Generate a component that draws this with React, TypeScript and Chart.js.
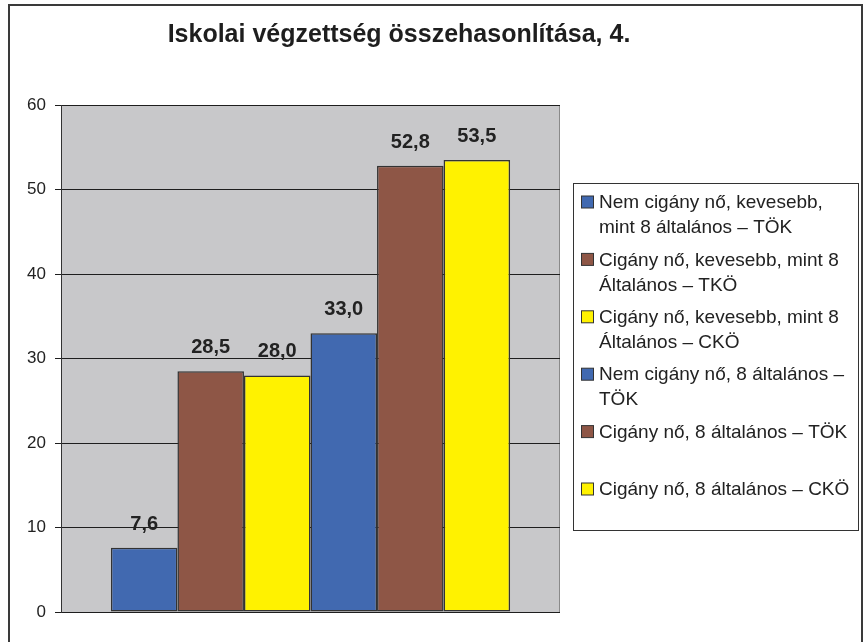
import React, { useEffect, useRef } from "react";
import { Chart, registerables } from "chart.js";

Chart.register(...registerables);

const TITLE = "Iskolai végzettség összehasonlítása, 4.";
const CATEGORIES = [""];
const SERIES_LABELS: string[][] = [
  ["Nem cigány nő, kevesebb,", "mint 8 általános – TÖK"],
  ["Cigány nő, kevesebb, mint 8", "Általános – TKÖ"],
  ["Cigány nő, kevesebb, mint 8", "Általános – CKÖ"],
  ["Nem cigány nő, 8 általános –", "TÖK"],
  ["Cigány nő, 8 általános – TÖK"],
  ["Cigány nő, 8 általános – CKÖ"],
];
const SERIES_VALUES = [7.6, 28.5, 28.0, 33.0, 52.8, 53.5];
const SERIES_COLORS = ["#4169B0", "#8E5646", "#FFF200", "#4169B0", "#8E5646", "#FFF200"];
const Y_MIN = 0;
const Y_MAX = 60;
const Y_STEP = 10;

const FONT = "'Liberation Sans', Arial, sans-serif";

const framePlugin = {
  id: "framePlugin",
  beforeDraw(chart: any) {
    const { ctx, chartArea } = chart;
    ctx.save();
    ctx.fillStyle = "#ffffff";
    ctx.fillRect(0, 0, chart.width, chart.height);
    // outer frame
    ctx.strokeStyle = "#3a3a3a";
    ctx.lineWidth = 2;
    ctx.strokeRect(9, 5, chart.width - 11, chart.height + 20);
    // plot background
    ctx.fillStyle = "#C8C8CA";
    ctx.fillRect(chartArea.left, chartArea.top, chartArea.right - chartArea.left, chartArea.bottom - chartArea.top);
    ctx.strokeStyle = "#8a8a8a";
    ctx.lineWidth = 1;
    ctx.strokeRect(chartArea.left + 0.5, chartArea.top + 0.5, chartArea.right - chartArea.left - 1, chartArea.bottom - chartArea.top);
    // title
    ctx.fillStyle = "#1e1e1e";
    ctx.font = `bold 25px ${FONT}`;
    ctx.textAlign = "center";
    ctx.textBaseline = "middle";
    ctx.fillText(TITLE, 399, 35);
    ctx.restore();
  },
  afterDatasetsDraw(chart: any) {
    const { ctx } = chart;
    ctx.save();
    ctx.fillStyle = "#222222";
    ctx.font = `bold 20px ${FONT}`;
    ctx.textAlign = "center";
    ctx.textBaseline = "alphabetic";
    chart.data.datasets.forEach((ds: any, i: number) => {
      const meta = chart.getDatasetMeta(i);
      meta.data.forEach((el: any, j: number) => {
        const v = ds.data[j] as number;
        ctx.fillText(v.toFixed(1).replace(".", ","), el.x, el.y - 18);
      });
    });
    // legend
    const lx = 573.5, ly = 183.5, lw = 285, lh = 347;
    ctx.fillStyle = "#ffffff";
    ctx.fillRect(lx, ly, lw, lh);
    ctx.strokeStyle = "#333333";
    ctx.lineWidth = 1;
    ctx.strokeRect(lx, ly, lw, lh);
    ctx.font = `19px ${FONT}`;
    ctx.textAlign = "left";
    ctx.textBaseline = "middle";
    chart.data.datasets.forEach((ds: any, i: number) => {
      const cy = 202 + 57.4 * i;
      ctx.fillStyle = ds.backgroundColor;
      ctx.fillRect(581.5, cy - 6, 12, 12);
      ctx.strokeStyle = "#333333";
      ctx.strokeRect(581.5, cy - 6, 12, 12);
      ctx.fillStyle = "#222222";
      const lines: string[] = ds.labelLines;
      lines.forEach((t, k) => ctx.fillText(t, 599, cy + 1 + k * 25));
    });
    ctx.restore();
  },
};

export default function App() {
  const ref = useRef<HTMLCanvasElement | null>(null);
  useEffect(() => {
    if (!ref.current) return;
    const chart = new Chart(ref.current, {
      type: "bar",
      data: {
        labels: CATEGORIES,
        datasets: SERIES_VALUES.map((v, i) => ({
          label: SERIES_LABELS[i].join(" "),
          labelLines: SERIES_LABELS[i],
          data: [v],
          backgroundColor: SERIES_COLORS[i],
          borderColor: "#333333",
          borderWidth: 1.5,
          borderSkipped: false,
          categoryPercentage: 0.8,
          barPercentage: 1.0,
        })) as any,
      },
      options: {
        responsive: false,
        animation: false,
        layout: { padding: { left: 21, top: 105, right: 304, bottom: 30 } },
        plugins: {
          legend: { display: false },
          title: { display: false },
          tooltip: { enabled: false },
        },
        scales: {
          x: { display: false, grid: { display: false } },
          y: {
            min: Y_MIN,
            max: Y_MAX,
            afterFit: (s: any) => { s.width = 40; },
            ticks: {
              stepSize: Y_STEP,
              padding: 9,
              color: "#222222",
              font: { family: FONT, size: 17 },
            },
            grid: { color: "#1e1e1e", lineWidth: 1, tickLength: 6, drawOnChartArea: true },
            border: { display: true, color: "#333333", width: 1 },
          },
        },
      },
      plugins: [framePlugin],
    });
    return () => chart.destroy();
  }, []);
  return (
    <div style={{ position: "absolute", left: 0, top: 0, width: 864, height: 642 }}>
      <canvas ref={ref} width={864} height={642} style={{ display: "block", width: 864, height: 642 }} />
    </div>
  );
}
